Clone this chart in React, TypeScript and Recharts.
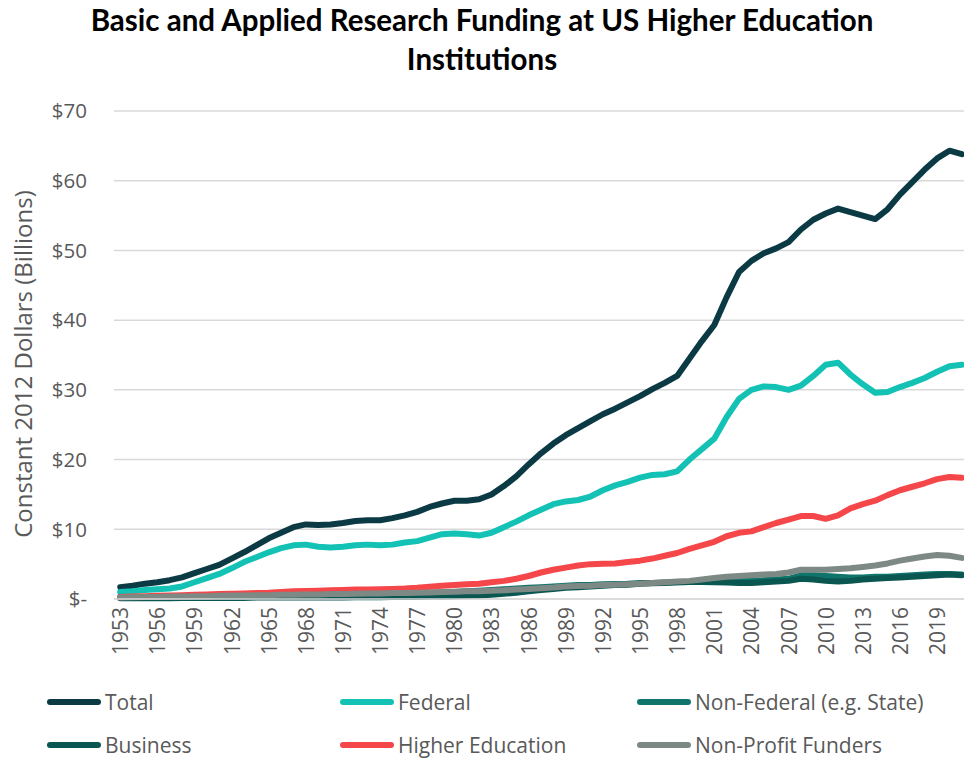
import React from 'react'
import { LineChart, Line, XAxis, YAxis, CartesianGrid } from 'recharts'

const years = [
  1953, 1954, 1955, 1956, 1957, 1958, 1959, 1960, 1961, 1962, 1963, 1964, 1965, 1966, 1967, 1968, 1969,
  1970, 1971, 1972, 1973, 1974, 1975, 1976, 1977, 1978, 1979, 1980, 1981, 1982, 1983, 1984, 1985, 1986,
  1987, 1988, 1989, 1990, 1991, 1992, 1993, 1994, 1995, 1996, 1997, 1998, 1999, 2000, 2001, 2002, 2003,
  2004, 2005, 2006, 2007, 2008, 2009, 2010, 2011, 2012, 2013, 2014, 2015, 2016, 2017, 2018, 2019, 2020,
  2021
]

const total = [
  1.7, 1.9, 2.2, 2.4, 2.7, 3.1, 3.7, 4.3, 4.9, 5.8, 6.7, 7.7, 8.7, 9.5, 10.3, 10.7, 10.6,
  10.7, 10.9, 11.2, 11.3, 11.3, 11.6, 12.0, 12.5, 13.2, 13.7, 14.1, 14.1, 14.3, 15.0, 16.2, 17.6, 19.3,
  20.9, 22.3, 23.5, 24.5, 25.5, 26.5, 27.3, 28.2, 29.1, 30.1, 31.0, 32.0, 34.5, 37.0, 39.3, 43.3, 46.9,
  48.5, 49.6, 50.3, 51.2, 53.0, 54.4, 55.3, 56.0, 55.5, 55.0, 54.5, 55.9, 58.0, 59.8, 61.6, 63.2, 64.3,
  63.8
]

const federal = [
  1.0, 1.1, 1.3, 1.4, 1.5, 1.8, 2.4, 3.0, 3.6, 4.4, 5.3, 6.0, 6.7, 7.3, 7.7, 7.8, 7.5,
  7.4, 7.5, 7.7, 7.8, 7.7, 7.8, 8.1, 8.3, 8.8, 9.3, 9.4, 9.3, 9.1, 9.5, 10.3, 11.1, 12.0,
  12.8, 13.6, 14.0, 14.2, 14.7, 15.6, 16.3, 16.8, 17.4, 17.8, 17.9, 18.3, 20.0, 21.5, 23.0, 26.1, 28.7,
  30.0, 30.5, 30.4, 30.0, 30.6, 32.0, 33.6, 33.9, 32.2, 30.8, 29.6, 29.7, 30.4, 31.0, 31.7, 32.6, 33.4,
  33.6
]

const nonFederal = [
  0.3, 0.3, 0.3, 0.35, 0.35, 0.4, 0.4, 0.4, 0.45, 0.45, 0.5, 0.5, 0.5, 0.55, 0.55, 0.6, 0.6,
  0.6, 0.65, 0.7, 0.7, 0.75, 0.8, 0.8, 0.85, 0.9, 0.95, 1.0, 1.1, 1.2, 1.3, 1.4, 1.5, 1.6,
  1.7, 1.8, 1.9, 2.0, 2.0, 2.1, 2.15, 2.2, 2.3, 2.3, 2.35, 2.4, 2.45, 2.5, 2.5, 2.55, 2.6,
  2.6, 2.7, 2.8, 2.9, 3.4, 3.4, 3.3, 3.2, 3.1, 3.1, 3.2, 3.2, 3.3, 3.4, 3.5, 3.6, 3.6,
  3.5
]

const business = [
  0.1, 0.1, 0.1, 0.1, 0.1, 0.15, 0.15, 0.15, 0.15, 0.15, 0.15, 0.2, 0.2, 0.2, 0.2, 0.2, 0.2,
  0.2, 0.2, 0.25, 0.25, 0.25, 0.3, 0.3, 0.3, 0.35, 0.35, 0.4, 0.45, 0.5, 0.6, 0.75, 0.9, 1.1,
  1.3, 1.45, 1.6, 1.7, 1.8, 1.9, 2.0, 2.05, 2.2, 2.25, 2.3, 2.4, 2.45, 2.45, 2.4, 2.35, 2.3,
  2.3, 2.4, 2.5, 2.6, 2.9, 2.8, 2.6, 2.5, 2.6, 2.8, 2.9, 3.0, 3.1, 3.2, 3.3, 3.4, 3.5,
  3.4
]

const higherEd = [
  0.3, 0.35, 0.4, 0.45, 0.5, 0.55, 0.6, 0.65, 0.7, 0.75, 0.8, 0.85, 0.9, 1.0, 1.1, 1.15, 1.2,
  1.25, 1.3, 1.35, 1.35, 1.4, 1.45, 1.5, 1.6, 1.75, 1.9, 2.0, 2.1, 2.2, 2.4, 2.6, 2.9, 3.3,
  3.8, 4.2, 4.5, 4.8, 5.0, 5.05, 5.1, 5.3, 5.5, 5.8, 6.2, 6.6, 7.2, 7.7, 8.2, 9.0, 9.5,
  9.7, 10.3, 10.9, 11.4, 11.9, 11.9, 11.5, 12.0, 13.0, 13.6, 14.1, 14.9, 15.6, 16.1, 16.6, 17.2, 17.5,
  17.4
]

const nonProfit = [
  0.2, 0.25, 0.3, 0.3, 0.35, 0.35, 0.4, 0.4, 0.45, 0.5, 0.5, 0.55, 0.55, 0.6, 0.6, 0.65, 0.65,
  0.7, 0.7, 0.75, 0.8, 0.8, 0.85, 0.85, 0.9, 0.95, 1.0, 1.05, 1.1, 1.1, 1.2, 1.25, 1.35, 1.45,
  1.55, 1.65, 1.8, 1.85, 1.9, 2.0, 2.05, 2.1, 2.2, 2.3, 2.4, 2.5, 2.6, 2.8, 3.0, 3.2, 3.3,
  3.4, 3.5, 3.6, 3.8, 4.2, 4.2, 4.2, 4.3, 4.4, 4.6, 4.8, 5.1, 5.5, 5.8, 6.1, 6.3, 6.2,
  5.9
]

const yTicks = [0, 10, 20, 30, 40, 50, 60, 70]

const series = [
  { key: 'total', name: 'Total', color: '#0b3a45' },
  { key: 'federal', name: 'Federal', color: '#14c2b5' },
  { key: 'nonFederal', name: 'Non-Federal (e.g. State)', color: '#0f746b' },
  { key: 'business', name: 'Business', color: '#0a5650' },
  { key: 'higherEd', name: 'Higher Education', color: '#f5474a' },
  { key: 'nonProfit', name: 'Non-Profit Funders', color: '#7d8985' }
]

const data = years.map((y, i) => ({
  year: String(y),
  total: total[i],
  federal: federal[i],
  nonFederal: nonFederal[i],
  business: business[i],
  higherEd: higherEd[i],
  nonProfit: nonProfit[i]
}))

const FONT = '"Open Sans", sans-serif'
const GREY = '#595959'

// years stand on end under the axis
const YearTick = ({ x, y, payload }: any) => (
  <text
    x={x}
    y={y}
    transform={`rotate(-90, ${x}, ${y})`}
    textAnchor="end"
    dominantBaseline="central"
    fontSize={21}
    fontFamily={FONT}
    fill={GREY}
  >
    {payload.value}
  </text>
)

const LegendBox = () => {
  const cols = [47, 340, 637]
  return (
    <div style={{ position: 'absolute', left: 0, top: 0, width: 964 }}>
      {series.map((s, i) => (
        <div
          key={s.key}
          style={{
            position: 'absolute',
            left: cols[i % 3],
            top: i < 3 ? 688 : 731,
            display: 'flex',
            alignItems: 'center',
            fontFamily: FONT,
            fontSize: 21,
            color: GREY,
            whiteSpace: 'nowrap'
          }}
        >
          <span style={{ display: 'inline-block', width: 54, height: 6, borderRadius: 3, background: s.color, marginRight: 4 }} />
          {s.name}
        </div>
      ))}
    </div>
  )
}

export default function App() {
  return (
    <div style={{ position: 'absolute', left: 0, top: 0, width: 964, height: 761, overflow: 'hidden', background: '#fff' }}>
      <div
        style={{
          position: 'absolute',
          left: 0,
          top: 0,
          width: 964,
          textAlign: 'center',
          fontFamily: 'Lato, sans-serif',
          fontWeight: 700,
          fontSize: 29.5,
          lineHeight: '39px',
          color: '#000'
        }}
      >
        Basic and Applied Research Funding at US Higher Education
        <br />
        Institutions
      </div>
      <div
        style={{
          position: 'absolute',
          left: 22,
          top: 364,
          transform: 'translate(-50%, -50%) rotate(-90deg)',
          fontFamily: FONT,
          fontSize: 24,
          color: GREY,
          whiteSpace: 'nowrap'
        }}
      >
        Constant 2012 Dollars (Billions)
      </div>
      <div style={{ position: 'absolute', left: 0, top: 0 }}>
        <LineChart width={968} height={761} data={data} margin={{ top: 111, right: 0, bottom: 0, left: 0 }}>
          <CartesianGrid vertical={false} stroke="#d9d9d9" strokeWidth={1.5} />
          <XAxis
            dataKey="year"
            scale="band"
            interval={2}
            tick={<YearTick />}
            tickLine={false}
            tickSize={0}
            tickMargin={8}
            axisLine={{ stroke: '#d9d9d9', strokeWidth: 1.5 }}
            height={162}
          />
          <YAxis
            domain={[0, 70]}
            ticks={yTicks}
            width={114}
            tickLine={false}
            axisLine={false}
            tickSize={0}
            tickMargin={27}
            tickFormatter={(v: number) => (v === 0 ? '$-' : `$${v}`)}
            tick={{ fontSize: 20.5, fill: GREY, fontFamily: FONT }}
          />
          {series.map(s => (
            <Line
              key={s.key}
              type="linear"
              dataKey={s.key}
              name={s.name}
              stroke={s.color}
              strokeWidth={6}
              strokeLinejoin="round"
              strokeLinecap="round"
              dot={false}
              isAnimationActive={false}
            />
          ))}
        </LineChart>
      </div>
      <LegendBox />
    </div>
  )
}
